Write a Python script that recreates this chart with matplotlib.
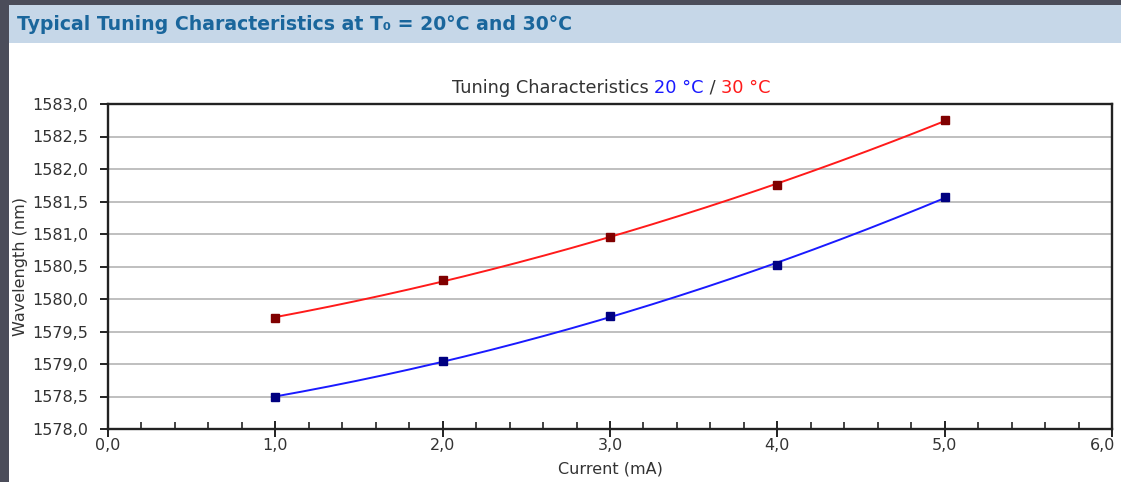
import numpy as np
import matplotlib
matplotlib.use("Agg")
import matplotlib.pyplot as plt
from matplotlib.ticker import MultipleLocator, FuncFormatter
from matplotlib.patches import Rectangle

# data
current = [1.0, 2.0, 3.0, 4.0, 5.0]          # mA
wl_20 = [1578.49, 1579.05, 1579.74, 1580.52, 1581.57]   # nm at 20 C
wl_30 = [1579.71, 1580.29, 1580.96, 1581.75, 1582.75]   # nm at 30 C
x_max = 6.0

header = "Typical Tuning Characteristics at T\u2080 = 20°C and 30°C"
title_parts = [("Tuning Characteristics ", "#333333"), ("20 °C", "#1a1aff"),
               (" / ", "#333333"), ("30 °C", "#ff1a1a")]

plt.rcParams['font.family'] = ['DejaVu Sans']

fig = plt.figure(figsize=(11.21, 4.82), dpi=100)
fig.patch.set_facecolor('#4b4d5a')

# white page and blue header band
fig.patches.append(Rectangle((9/1121, 0), 1, 477/482, transform=fig.transFigure,
                             facecolor='white', edgecolor='none', zorder=-3))
fig.patches.append(Rectangle((9/1121, 1 - 43/482), 1, 38/482, transform=fig.transFigure,
                             facecolor='#c6d7e8', edgecolor='none', zorder=-2))
fig.text(17/1121, 1 - 24/482, header, fontsize=13.6, fontweight='bold',
         color='#1a669c', ha='left', va='center')

ax = fig.add_axes([108/1121, 53/482, 1004/1121, 325/482])
ax.set_facecolor('white')

# trend curves (2nd order fit, as in the original chart)
xs = np.linspace(current[0], current[-1], 200)
for wl, lc, mc in [(wl_30, '#ff1a1a', '#800000'), (wl_20, '#1a1aff', '#000080')]:
    p = np.polyfit(current, wl, 2)
    ax.plot(xs, np.polyval(p, xs), color=lc, lw=1.4, zorder=3)
    ax.plot(current, wl, 's', color=mc, ms=5.5, zorder=4)

ax.set_xlim(0, x_max)
ax.set_ylim(1578, 1583)
ax.xaxis.set_major_locator(MultipleLocator(1))
ax.xaxis.set_minor_locator(MultipleLocator(0.2))
ax.yaxis.set_major_locator(MultipleLocator(0.5))
fmt = lambda v: f"{v:.1f}".replace('.', ',')
# the last x label is drawn separately, nudged left to stay on the page
ax.xaxis.set_major_formatter(FuncFormatter(lambda v, pos: '' if v >= x_max else fmt(v)))
ax.yaxis.set_major_formatter(FuncFormatter(lambda v, pos: fmt(v)))

ax.grid(axis='y', color='#b4b4b4', lw=1.2, zorder=1)
ax.set_axisbelow(True)
for s in ax.spines.values():
    s.set_color('#222222')
    s.set_linewidth(1.7)

ax.tick_params(axis='x', which='major', direction='inout', length=11, width=1.4,
               color='#222222', labelsize=11.5, labelcolor='#333333', pad=1)
ax.tick_params(axis='x', which='minor', direction='in', length=5, width=1.2, color='#222222')
ax.tick_params(axis='y', which='major', direction='out', length=6, width=1.4,
               color='#222222', labelsize=11.5, labelcolor='#333333', pad=8)

ax.annotate(fmt(x_max), xy=(x_max, 0), xycoords=('data', 'axes fraction'),
            xytext=(-7, -6.5), textcoords='offset points', ha='center', va='top',
            fontsize=11.5, color='#333333', annotation_clip=False)

ax.set_xlabel('Current (mA)', fontsize=11.5, color='#333333', labelpad=6)
ax.set_ylabel('Wavelength (nm)', fontsize=11.5, color='#333333', labelpad=3)

# multi-coloured title, each piece placed right after the previous one
prev = fig.text(452/1121, 1 - 88/482, title_parts[0][0], fontsize=12.8,
                color=title_parts[0][1], ha='left', va='center')
for txt, col in title_parts[1:]:
    prev = ax.annotate(txt, xy=(1, 0.5), xycoords=prev, ha='left', va='center',
                       fontsize=12.8, color=col, annotation_clip=False)

fig.savefig('out.png', dpi=100, facecolor=fig.get_facecolor())
